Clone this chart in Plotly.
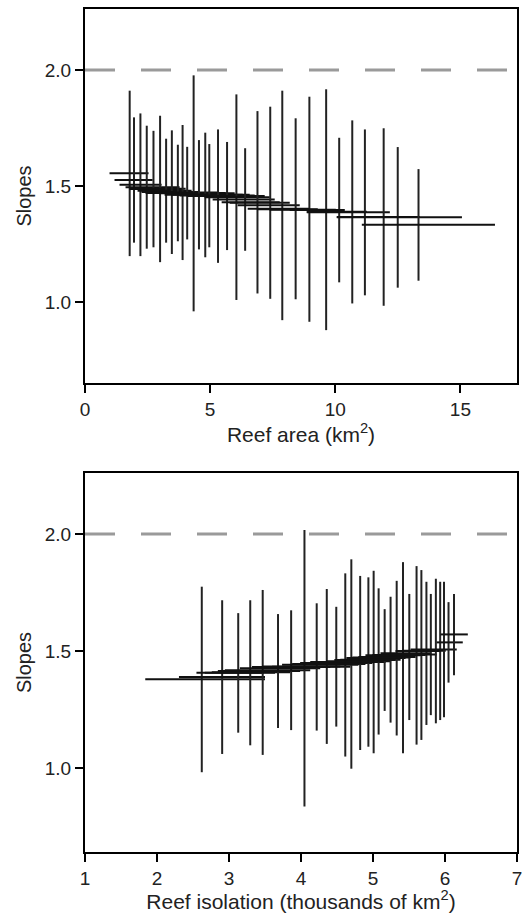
import plotly.graph_objects as go

# ---------------- Top panel: slopes vs reef area ----------------
area_x = [1.785, 1.957, 2.214, 2.467, 2.736, 3.000, 3.241, 3.470, 3.710, 3.899, 4.083, 4.340, 4.553,
          4.805, 4.966, 5.315, 5.676, 6.049, 6.398, 6.891, 7.401, 7.882, 8.416, 8.965, 9.635, 10.156,
          10.678, 11.183, 11.933, 12.495, 13.325]
area_lo = [0.98, 1.18, 1.38, 1.62, 1.78, 1.94, 2.10, 2.26, 2.42, 2.58, 2.78, 2.98, 3.18, 3.46, 3.78,
           4.10, 4.42, 4.78, 5.10, 5.46, 5.78, 6.10, 6.50, 6.90, 7.38, 8.18, 8.86, 8.86, 10.06,
           10.06, 11.06]
area_hi = [2.54, 2.70, 3.06, 3.78, 3.90, 4.02, 4.26, 4.58, 4.98, 5.30, 5.62, 5.98, 6.30, 6.58, 6.78,
           6.98, 7.18, 7.38, 7.58, 7.78, 8.18, 8.58, 8.98, 9.30, 10.02, 10.38, 11.26, 12.18, 13.38,
           15.06, 16.38]
area_slope = [1.555, 1.526, 1.506, 1.495, 1.487, 1.488, 1.480, 1.474, 1.470, 1.472, 1.470, 1.469,
              1.463, 1.462, 1.459, 1.457, 1.457, 1.452, 1.442, 1.430, 1.428, 1.417, 1.402, 1.400,
              1.398, 1.397, 1.389, 1.387, 1.367, 1.365, 1.333]
area_ci_lo = [1.198, 1.256, 1.198, 1.230, 1.236, 1.172, 1.256, 1.207, 1.262, 1.181, 1.270, 0.960,
              1.227, 1.193, 1.236, 1.169, 1.224, 1.009, 1.221, 1.037, 1.014, 0.922, 1.012, 0.915,
              0.879, 1.085, 0.994, 1.029, 0.984, 1.062, 1.092]
area_ci_hi = [1.911, 1.796, 1.813, 1.760, 1.738, 1.803, 1.704, 1.740, 1.678, 1.763, 1.669, 1.977,
              1.698, 1.730, 1.681, 1.744, 1.690, 1.895, 1.663, 1.823, 1.842, 1.911, 1.792, 1.885,
              1.917, 1.708, 1.783, 1.744, 1.749, 1.668, 1.573]

# ---------------- Bottom panel: slopes vs reef isolation ----------------
iso_x = [2.622, 2.905, 3.128, 3.295, 3.468, 3.681, 3.863, 4.048, 4.218, 4.358, 4.490, 4.615, 4.699,
         4.822, 4.936, 5.009, 5.078, 5.162, 5.244, 5.329, 5.417, 5.504, 5.605, 5.672, 5.742, 5.803,
         5.873, 5.933, 5.986, 6.049, 6.125]
iso_lo = [1.837, 2.305, 2.548, 2.663, 2.761, 2.845, 2.942, 3.151, 3.319, 3.458, 3.598, 3.737, 3.877,
          3.988, 4.128, 4.239, 4.351, 4.463, 4.546, 4.630, 4.714, 4.797, 4.895, 4.992, 5.104, 5.215,
          5.313, 5.410, 5.522, 5.884, 5.940]
iso_hi = [3.500, 3.500, 3.486, 3.640, 3.849, 3.988, 4.128, 4.267, 4.407, 4.546, 4.686, 4.797, 4.895,
          4.992, 5.104, 5.174, 5.243, 5.313, 5.383, 5.452, 5.522, 5.592, 5.662, 5.731, 5.801, 5.884,
          5.940, 6.010, 6.163, 6.247, 6.317]
iso_slope = [1.379, 1.389, 1.407, 1.407, 1.409, 1.415, 1.418, 1.426, 1.432, 1.434, 1.433, 1.441, 1.445,
             1.449, 1.453, 1.453, 1.456, 1.462, 1.463, 1.470, 1.472, 1.475, 1.482, 1.483, 1.490, 1.485,
             1.500, 1.501, 1.507, 1.537, 1.571]
iso_ci_lo = [0.982, 1.060, 1.151, 1.097, 1.056, 1.171, 1.162, 0.835, 1.160, 1.103, 1.177, 1.049, 0.997,
             1.077, 1.091, 1.063, 1.143, 1.244, 1.194, 1.139, 1.063, 1.205, 1.100, 1.120, 1.184, 1.226,
             1.191, 1.205, 1.217, 1.365, 1.397]
iso_ci_hi = [1.775, 1.717, 1.662, 1.717, 1.761, 1.658, 1.674, 2.017, 1.704, 1.765, 1.689, 1.832, 1.892,
             1.821, 1.815, 1.843, 1.768, 1.679, 1.732, 1.800, 1.880, 1.744, 1.863, 1.846, 1.796, 1.744,
             1.809, 1.796, 1.796, 1.709, 1.744]

area_ticks = [0, 5, 10, 15]
iso_ticks = [1, 2, 3, 4, 5, 6, 7]
slope_ticks = [1.0, 1.5, 2.0]
reference_slope = 2.0

FONT = "Liberation Sans, Arial, Helvetica, sans-serif"


def cross_trace(x, lo, hi, y, ylo, yhi, xa, ya):
    return go.Scatter(
        x=x, y=y, mode="markers", xaxis=xa, yaxis=ya,
        marker=dict(color="rgba(0,0,0,0)", size=2),
        error_x=dict(type="data", symmetric=False,
                     array=[h - v for h, v in zip(hi, x)],
                     arrayminus=[v - l for v, l in zip(x, lo)],
                     color="#111111", thickness=2, width=0),
        error_y=dict(type="data", symmetric=False,
                     array=[h - v for h, v in zip(yhi, y)],
                     arrayminus=[v - l for v, l in zip(y, ylo)],
                     color="#222222", thickness=2, width=0),
        showlegend=False, hoverinfo="skip",
    )


fig = go.Figure()
fig.add_trace(cross_trace(area_x, area_lo, area_hi, area_slope, area_ci_lo, area_ci_hi, "x", "y"))
fig.add_trace(cross_trace(iso_x, iso_lo, iso_hi, iso_slope, iso_ci_lo, iso_ci_hi, "x2", "y2"))

for xr, yr in (("x domain", "y"), ("x2 domain", "y2")):
    fig.add_shape(type="line", xref=xr, x0=0, x1=1, yref=yr, y0=reference_slope, y1=reference_slope,
                  line=dict(color="#9a9a9a", width=3, dash="30px,26px"), layer="below")

axis_common = dict(
    showline=True, linewidth=2, linecolor="black", mirror=True,
    ticks="outside", ticklen=8, tickwidth=1.5, tickcolor="black",
    showgrid=False, zeroline=False, automargin=False,
    tickfont=dict(family=FONT, size=19, color="#222222"),
)

fig.update_layout(
    width=524, height=913,
    margin=dict(l=85, r=7, t=9, b=61),
    paper_bgcolor="white", plot_bgcolor="white",
    font=dict(family=FONT, color="#222222"),
    xaxis=dict(axis_common, domain=[0, 1], anchor="y", range=[0, 17.26], tickvals=area_ticks,
               title=dict(text="Reef area (km<sup>2</sup>)", font=dict(family=FONT, size=21),
                          standoff=6)),
    yaxis=dict(axis_common, domain=[0.5563, 1], anchor="x", range=[0.651, 2.263],
               tickvals=slope_ticks, tickformat=".1f",
               title=dict(text="Slopes", font=dict(family=FONT, size=20), standoff=8)),
    xaxis2=dict(axis_common, domain=[0, 1], anchor="y2", range=[1, 7], tickvals=iso_ticks,
                title=dict(text="Reef isolation (thousands of km<sup>2</sup>)",
                           font=dict(family=FONT, size=21), standoff=2)),
    yaxis2=dict(axis_common, domain=[0, 0.4496], anchor="x2", range=[0.641, 2.261],
                tickvals=slope_ticks, tickformat=".1f",
                title=dict(text="Slopes", font=dict(family=FONT, size=20), standoff=8)),
)

fig.write_html(
    "out.html",
    config={"displayModeBar": False},
    post_script="document.body.style.margin='0';document.body.style.overflow='hidden';",
)
